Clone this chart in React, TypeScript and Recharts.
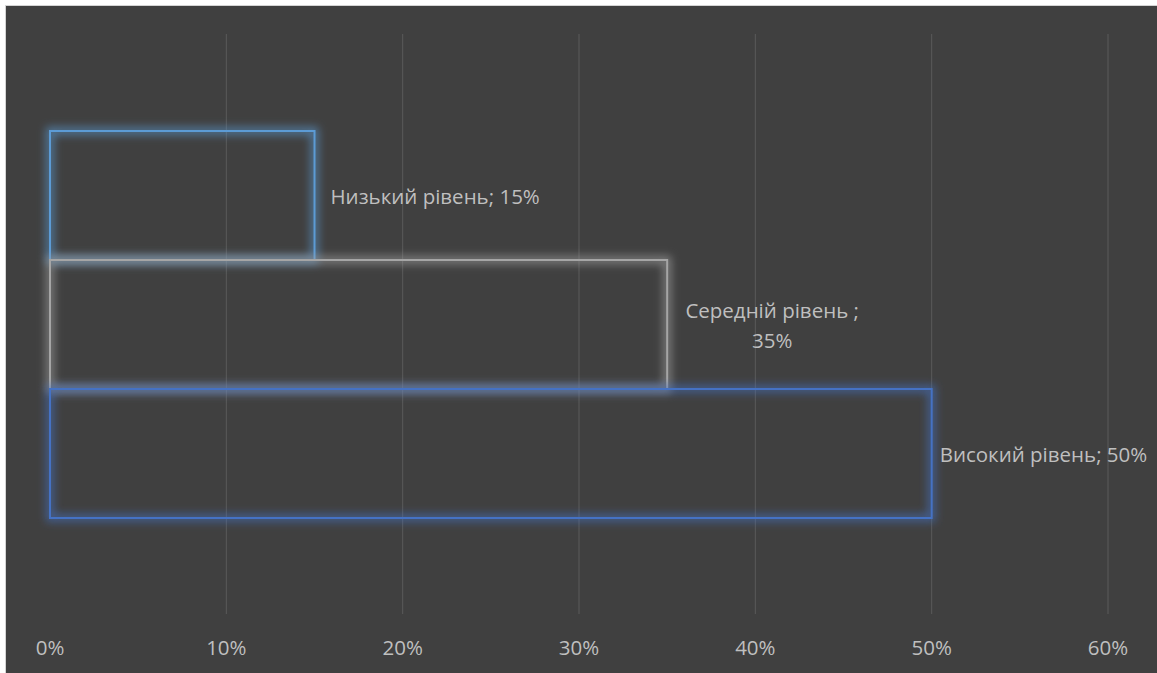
import React from "react";
import { BarChart, Bar, XAxis, YAxis, CartesianGrid, LabelList } from "recharts";

const categories = [""];
const seriesNames = ["Низький рівень", "Середній рівень ", "Високий рівень"];
const lowValues = [0.15];
const midValues = [0.35];
const highValues = [0.5];
const xTicks = [0, 0.1, 0.2, 0.3, 0.4, 0.5, 0.6];

const data = categories.map((c, i) => ({
  cat: c,
  low: lowValues[i],
  mid: midValues[i],
  high: highValues[i],
}));

const FONT = "'Open Sans', 'Noto Sans', sans-serif";
const TEXT = "#bfbfbf";
const FS = 20.5;
const pct = (v: number) => `${Math.round(v * 100)}%`;

const seriesCfg = [
  { key: "low", name: seriesNames[0], color: "#5b9bd5", filter: "glowLow", gap: 16, twoLine: false },
  { key: "mid", name: seriesNames[1], color: "#a5a5a5", filter: "glowMid", gap: 16, twoLine: true },
  { key: "high", name: seriesNames[2], color: "#4472c4", filter: "glowHigh", gap: 8, twoLine: false },
];

const makeShape = (color: string, filterId: string) => (props: any) => {
  const { x, y, width, height } = props;
  return (
    <rect
      x={x}
      y={y + 1}
      width={width}
      height={height}
      fill="none"
      stroke={color}
      strokeWidth={2}
      filter={`url(#${filterId})`}
    />
  );
};

const makeLabel = (name: string, gap: number, twoLine: boolean) => (props: any) => {
  const { x, y, width, height, value } = props;
  const cy = y + height / 2 + 1;
  if (twoLine) {
    const line1 = `${name};`;
    const cx = x + width + gap + 89;
    return (
      <text fill={TEXT} fontFamily={FONT} fontSize={FS} textAnchor="middle">
        <tspan x={cx} y={cy - 15} dominantBaseline="central">{line1}</tspan>
        <tspan x={cx} y={cy + 15} dominantBaseline="central">{pct(value)}</tspan>
      </text>
    );
  }
  return (
    <text
      x={x + width + gap}
      y={cy}
      fill={TEXT}
      fontFamily={FONT}
      fontSize={FS}
      dominantBaseline="central"
    >
      {`${name}; ${pct(value)}`}
    </text>
  );
};

const GridLine = (props: any) => {
  const { x1, y1, x2, y2, index, stroke } = props;
  if (index === 0) return <g />;
  return <line x1={x1} y1={y1} x2={x2} y2={y2} stroke={stroke} strokeWidth={1} />;
};

export default function App() {
  return (
    <div style={{ position: "fixed", left: 0, top: 0, width: 1157, height: 673, background: "#ffffff", overflow: "hidden" }}>
      <div
        style={{
          position: "absolute",
          left: 5,
          top: 5,
          width: 1160,
          height: 680,
          background: "#404040",
          borderLeft: "1px solid #d4d4d4",
          borderTop: "1px solid #d4d4d4",
        }}
      >
        <BarChart
          width={1151}
          height={667}
          data={data}
          layout="vertical"
          margin={{ top: 28, right: 49, bottom: 29, left: 44 }}
          barCategoryGap={96}
          barGap={0}
        >
          <defs>
            {seriesCfg.map((s) => (
              <filter key={s.filter} id={s.filter} x="-20%" y="-20%" width="140%" height="140%">
                <feMorphology in="SourceGraphic" operator="dilate" radius={2.5} result="d" />
                <feGaussianBlur in="d" stdDeviation={4} result="b" />
                <feComponentTransfer in="b" result="bo">
                  <feFuncA type="linear" slope={0.6} />
                </feComponentTransfer>
                <feMerge>
                  <feMergeNode in="bo" />
                  <feMergeNode in="SourceGraphic" />
                </feMerge>
              </filter>
            ))}
          </defs>
          <CartesianGrid horizontal={false} vertical={GridLine as any} stroke="#5a5a5a" />
          <XAxis
            type="number"
            domain={[0, 0.6]}
            ticks={xTicks}
            tickFormatter={pct}
            axisLine={false}
            tickLine={false}
            tickSize={6}
            tickMargin={20}
            height={30}
            interval={0}
            tick={{ fill: TEXT, fontFamily: FONT, fontSize: FS }}
          />
          <YAxis type="category" dataKey="cat" hide />
          {seriesCfg.map((s) => (
            <Bar
              key={s.key}
              dataKey={s.key}
              name={s.name}
              isAnimationActive={false}
              shape={makeShape(s.color, s.filter)}
            >
              <LabelList dataKey={s.key} content={makeLabel(s.name, s.gap, s.twoLine)} />
            </Bar>
          ))}
        </BarChart>
      </div>
    </div>
  );
}
